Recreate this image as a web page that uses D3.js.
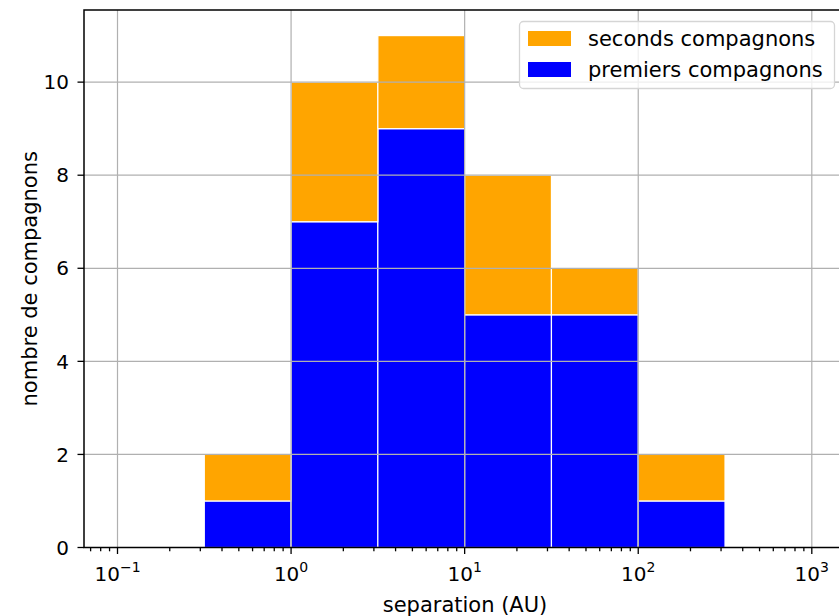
<!DOCTYPE html>
<html><head><meta charset="utf-8">
<script src="https://cdn.jsdelivr.net/npm/d3@7"></script>
<style>body{margin:0;background:#fff}svg{display:block}text{font-family:"DejaVu Sans",sans-serif;fill:#000}</style>
</head><body><svg id="c" width="839" height="616"></svg>
<script>
// bin edges as log10 exponents
const binEdges = [-0.5, 0, 0.5, 1, 1.5, 2, 2.5];
const premiers = [1, 7, 9, 5, 5, 1];
const seconds = [1, 3, 2, 3, 1, 1];
const seriesNames = ["premiers compagnons", "seconds compagnons"];
const seriesColors = ["#0000ff", "#ffa500"];
const xTickExps = [-1, 0, 1, 2, 3];
const yTicks = [0, 2, 4, 6, 8, 10];
const xLabel = "separation (AU)";
const yLabel = "nombre de compagnons";

const svg = d3.select("#c");
const L = 84, R = 846, T = 10, B = 547.5;
const x = d3.scaleLog().domain([Math.pow(10, -1.193), Math.pow(10, 3.197)]).range([L, R]);
const y = d3.scaleLinear().domain([0, 11.55]).range([B, T]);

const bins = premiers.map((p, i) => ({
  x0: Math.pow(10, binEdges[i]), x1: Math.pow(10, binEdges[i + 1]),
  vals: [p, seconds[i]]
}));
const stacked = d3.stack().keys([0, 1]).value((d, k) => d.vals[k])(bins);

const g = svg.append("g");
stacked.forEach((layer, k) => {
  g.selectAll(null).data(layer).enter().append("rect")
    .attr("x", d => x(d.data.x0))
    .attr("width", d => x(d.data.x1) - x(d.data.x0))
    .attr("y", d => y(d[1]))
    .attr("height", d => y(d[0]) - y(d[1]))
    .attr("fill", seriesColors[k])
    .attr("stroke", "#fff").attr("stroke-width", 1.2);
});

// grid (drawn above bars like matplotlib default)
const grid = svg.append("g").attr("stroke", "#b0b0b0").attr("stroke-width", 1.2);
xTickExps.forEach(e => {
  const xv = x(Math.pow(10, e));
  grid.append("line").attr("x1", xv).attr("x2", xv).attr("y1", T).attr("y2", B);
});
yTicks.forEach(v => {
  grid.append("line").attr("x1", L).attr("x2", R).attr("y1", y(v)).attr("y2", y(v));
});

// spines
const sp = svg.append("g").attr("stroke", "#000").attr("stroke-width", 1.5).attr("fill", "none");
sp.append("rect").attr("x", L).attr("y", T).attr("width", R - L).attr("height", B - T);

// x axis ticks (major + minor)
const ax = svg.append("g").attr("stroke", "#000").attr("stroke-width", 1.3);
for (let e = -2; e <= 3; e++) {
  for (let m = 1; m <= 9; m++) {
    const v = m * Math.pow(10, e);
    const xv = x(v);
    if (xv < L - 0.5 || xv > R + 0.5) continue;
    ax.append("line").attr("x1", xv).attr("x2", xv).attr("y1", B).attr("y2", B + (m === 1 ? 6.5 : 3.8));
  }
}
xTickExps.forEach(e => {
  const t = svg.append("text").attr("x", x(Math.pow(10, e))).attr("y", 581)
    .attr("text-anchor", "middle").attr("font-size", 20);
  t.append("tspan").text("10");
  t.append("tspan").attr("dy", -9).attr("font-size", 14).text(e < 0 ? "\u2212" + (-e) : String(e));
});
// y axis
yTicks.forEach(v => {
  ax.append("line").attr("x1", L - 6.5).attr("x2", L).attr("y1", y(v)).attr("y2", y(v));
  svg.append("text").attr("x", 69).attr("y", y(v)).attr("dy", "0.36em")
    .attr("text-anchor", "end").attr("font-size", 20).text(v);
});

svg.append("text").attr("x", (L + R) / 2).attr("y", 611.5).attr("text-anchor", "middle")
  .attr("font-size", 21).text(xLabel);
svg.append("text").attr("transform", `translate(36.5,${(T + B) / 2}) rotate(-90)`)
  .attr("text-anchor", "middle").attr("font-size", 21).text(yLabel);

// legend
const lg = svg.append("g");
lg.append("rect").attr("x", 519.5).attr("y", 21.5).attr("width", 315).attr("height", 67)
  .attr("rx", 4).attr("fill", "#fff").attr("fill-opacity", 0.8).attr("stroke", "#d5d5d5").attr("stroke-width", 1.3);
const order = [1, 0];
order.forEach((k, i) => {
  const cy = 38.5 + i * 31;
  lg.append("rect").attr("x", 528).attr("y", cy - 7.5).attr("width", 43).attr("height", 15).attr("fill", seriesColors[k]);
  lg.append("text").attr("x", 588).attr("y", cy).attr("dy", "0.36em").attr("font-size", 21).text(seriesNames[k]);
});
</script></body></html>
